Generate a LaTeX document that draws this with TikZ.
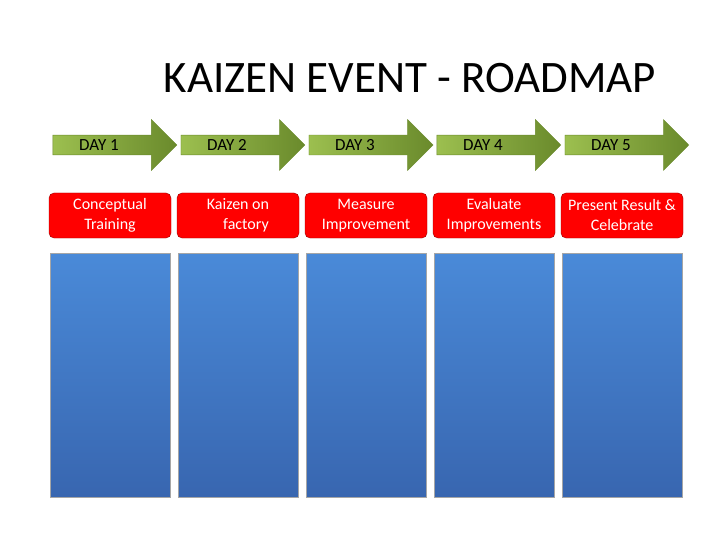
\documentclass[tikz,border=0pt]{standalone}
\usepackage{fontspec}
\setmainfont{Carlito}
\usetikzlibrary{shapes.arrows}
\definecolor{daylight}{HTML}{9CBF4F}
\definecolor{daydark}{HTML}{6A8A2C}
\definecolor{coltop}{HTML}{4A8AD8}
\definecolor{colbottom}{HTML}{3866B0}
\tikzset{
    dayarrow/.style = {single arrow,
                    single arrow head extend=9pt,
                    single arrow tip angle=90,
                    minimum height=124pt,
                    minimum width=51pt,
                    inner sep=0pt,
                    left color=daylight,
                    right color=daydark,
                    draw=daydark,
                    text=black,
                    font=\fontsize{17}{19}\selectfont},
    task/.style =   {rectangle,
                    rounded corners=5pt,
                    fill=red,
                    draw=red!60!black,
                    text=white,
                    align=center,
                    minimum width=122pt,
                    minimum height=45pt,
                    font=\fontsize{16}{20}\selectfont},
    column/.style = {rectangle,
                    top color=coltop,
                    bottom color=colbottom,
                    draw=gray!70,
                    minimum width=120pt,
                    minimum height=244pt}
}
\begin{document}
\begin{tikzpicture}[x=1pt,y=-1pt]
    \useasboundingbox[fill=white] (0,0) rectangle (720,540);
    \node (title) at (410,78) {\fontsize{45}{50}\selectfont KAIZEN EVENT - ROADMAP};
    \foreach \i/\txt in {1/Conceptual\\Training,
                         2/Kaizen on\\\quad factory,
                         3/Measure\\Improvement,
                         4/Evaluate\\Improvements,
                         5/Present Result \&\\Celebrate}{
        \node[dayarrow] (day\i) at ({110+128*(\i-1)},145) {\hspace*{-22pt}DAY \i};
        \node[task]     (task\i) at ({110+128*(\i-1)},215.5) {\txt};
        \node[column]   (col\i) at ({110+128*(\i-1)},375) {};
    }
\end{tikzpicture}
\end{document}
